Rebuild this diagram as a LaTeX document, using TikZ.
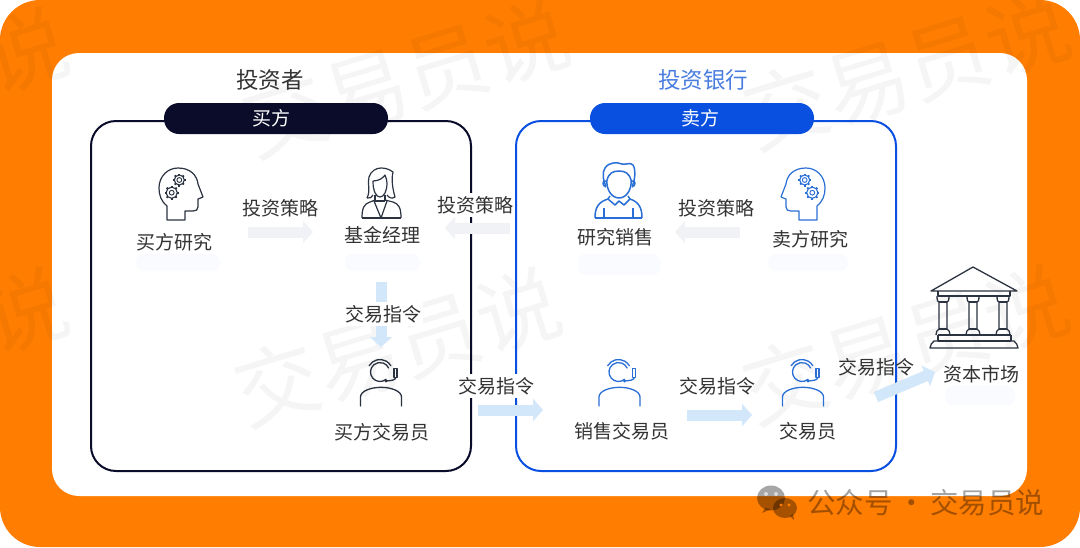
\documentclass[tikz,border=0pt]{standalone}
\usepackage{fontspec}
\setmainfont{Noto Sans CJK SC}
\usetikzlibrary{arrows.meta}
\definecolor{orangebg}{HTML}{FF7D00}
\definecolor{inkdark}{HTML}{0B0B2A}
\definecolor{inkblue}{HTML}{0A50E0}
\definecolor{iconblue}{HTML}{2A6FD6}
\definecolor{icondark}{HTML}{2B3240}
\definecolor{txt}{HTML}{333333}
\definecolor{titleblue}{HTML}{4A7DE0}
\definecolor{arrowgray}{HTML}{F0F2F5}
\definecolor{arrowblue}{HTML}{D3E7FA}
\definecolor{glow}{HTML}{F9FBFE}
\tikzset{
  x=1pt,y=-1pt,
  lbl/.style={inner sep=0pt,text=txt,font=\fontsize{19}{20}\selectfont,text height=17pt,text depth=3pt},
  lblbg/.style={lbl,fill=white,inner sep=2pt},
  titlelbl/.style={inner sep=0pt,font=\fontsize{22.5}{24}\selectfont,text height=21pt,text depth=4pt},
  pilllbl/.style={inner sep=0pt,text=white,font=\fontsize{19}{20}\selectfont,text height=17pt,text depth=3pt},
  frame/.style={line width=2pt,rounded corners=25pt},
  blockgray/.style={line width=11pt,arrowgray,-{Triangle[length=10pt,width=22pt]}},
  blockblue/.style={line width=11pt,arrowblue,-{Triangle[length=10pt,width=22pt]}},
  wm/.style={inner sep=0pt,text=black,text opacity=.04,rotate=17,font=\fontsize{84}{88}\selectfont},
  pics/gearicon/.style={code={
    \draw[line width=1.1pt] (0,0) circle[radius=#1];
    \draw[line width=.9pt] (0,0) circle[radius=2.4];
    \foreach \a in {0,45,...,315}{\draw[line width=1.8pt] (\a:#1) -- (\a:#1+1.5);}
  }},
  pics/headicon/.style={code={
    \draw[line width=1.2pt,line join=round] (-14,26) -- (-14,12) .. controls (-20,7) and (-22,1) .. (-22,-6)
      .. controls (-22,-18) and (-13,-26) .. (-3,-26) .. controls (9,-26) and (16,-19) .. (17,-10)
      -- (22,3) -- (17,5) -- (17,13) .. controls (17,16) and (15,17) .. (12,17) -- (4,17) -- (4,26) -- cycle;
    \pic at (-1.7,-14) {gearicon=5};
    \pic at (-9.3,-1.3) {gearicon=5.6};
  }},
  pics/womanicon/.style={code={
    \begin{scope}[line width=1.2pt,line join=round]
    \draw (367,198) .. controls (371,190) and (367,184) .. (369,177) .. controls (371,171) and (376,168) .. (381,168)
      .. controls (385,168) and (389,169) .. (393,172) .. controls (391,180) and (393,190) .. (395,197) .. controls (392,199) and (389,198) .. (387,195);
    \draw (373,195) .. controls (372,198) and (370,198) .. (367,198);
    \draw (373,181) .. controls (379,181) and (383,178) .. (385,175) .. controls (386,178) and (387,180) .. (387,183)
      .. controls (387,191) and (384,197) .. (380,197) .. controls (376,197) and (373,191) .. (373,181);
    \draw (375,195) -- (375,201) (385,195) -- (385,201);
    \draw (375,201) -- (385,201);
    \draw (362,218) .. controls (362,208) and (364,204) .. (370,202) -- (375,200);
    \draw (401,218) .. controls (401,208) and (399,204) .. (393,202) -- (385,200);
    \draw (362,218) -- (401,218);
    \draw (374,201) -- (381,218) -- (387,201);
    \end{scope}
  }},
  pics/manicon/.style={code={
    \begin{scope}[line width=1.5pt,line join=round]
    \draw (606,186) .. controls (603,182) and (602,172) .. (605,168) .. controls (609,162) and (617,162) .. (622,164)
      .. controls (626,165) and (630,162) .. (633,165) .. controls (636,169) and (635,182) .. (632,186);
    \draw (607,180) .. controls (609,173) and (613,171) .. (619,171) .. controls (625,171) and (629,173) .. (631,180)
      .. controls (632,190) and (626,198) .. (619,198) .. controls (612,198) and (606,190) .. (607,180);
    \draw (606,181) .. controls (602,180) and (602,186) .. (606,187);
    \draw (632,181) .. controls (636,180) and (636,186) .. (632,187);
    \draw (610,196) -- (608,199) -- (615,205) -- (619,201) -- (624,205) -- (630,199) -- (628,196);
    \draw (595,218) .. controls (595,208) and (598,202) .. (608,199);
    \draw (642,218) .. controls (642,208) and (639,202) .. (630,199);
    \draw (595,218) -- (642,218);
    \draw (604,208) -- (604,218) (633,208) -- (633,218);
    \end{scope}
  }},
  pics/agenticon/.style={code={
    \begin{scope}[line width=1.3pt,line join=round,line cap=round]
    \draw (-1,-11) ++(50:9.5) arc[start angle=50,end angle=335,radius=9.5];
    \draw (-1,-11) ++(210:12.5) arc[start angle=210,end angle=330,radius=12.5];
    \draw[fill=white] (13,-14.5) rectangle (16,-5.5);
    \draw (15,-5.5) .. controls (14,-2.5) and (10,-2.5) .. (5,-2);
    \fill (5,-2) circle[radius=1.6];
    \draw (-20.5,23) -- (-20.5,14) .. controls (-20.5,8) and (-10,4.3) .. (0,4.3)
       .. controls (10,4.3) and (20.5,8) .. (20.5,14) -- (20.5,23);
    \end{scope}
  }},
  pics/bankicon/.style={code={
    \begin{scope}[line width=1.3pt,line join=round]
    \draw (931,291) -- (973,267) -- (1017,291) -- cycle;
    \draw (938,291) -- (938,296) -- (1010,296) -- (1010,291);
    \foreach \c in {943,973,1003}{
      \draw (\c-6,296) .. controls (\c-6,301) and (\c-5,302) .. (\c-4,302) -- (\c-4,329)
        .. controls (\c-6,330) and (\c-7,332) .. (\c-7,335);
      \draw (\c+6,296) .. controls (\c+6,301) and (\c+5,302) .. (\c+4,302) -- (\c+4,329)
        .. controls (\c+6,330) and (\c+7,332) .. (\c+7,335);
      \draw (\c-4,302) -- (\c+4,302) (\c-4,329) -- (\c+4,329);
    }
    \draw (938,335) -- (1011,335) (938,341) -- (1011,341);
    \draw (938,335) -- (938,341) (1011,335) -- (1011,341);
    \draw (934,341) -- (1014,341) .. controls (1016,343) and (1018,345) .. (1018,348) -- (930,348) .. controls (930,345) and (932,343) .. (934,341) -- cycle;
    \end{scope}
  }},
}
\begin{document}
\begin{tikzpicture}
\useasboundingbox (0,0) rectangle (1080,547);
\fill[white] (0,0) rectangle (1080,547);
\fill[orangebg,rounded corners=40pt] (0,0) rectangle (1080,547);
\fill[white,rounded corners=27pt] (52,53) rectangle (1027,496);
% pale glows under the labels
\foreach \xa/\ya/\xb/\yb in {136/254/220/271,345/254/420/271,578/254/660/275,768/254/848/271,945/386/1015/405}{
  \fill[glow,rounded corners=8pt] (\xa,\ya) rectangle (\xb,\yb);
}
% watermarks
\begin{scope}
\clip (0,0) rectangle (1080,547);
\foreach \wx/\wy [count=\i] in {-95/87,406/78,907/70,-95/347,398/347,906/345}{
  \node[wm] (wm\i) at (\wx,\wy) {交易员说};
}
\end{scope}
% frames
\draw[frame,inkdark] (91,121) rectangle (471,471);
\draw[frame,inkblue] (516,121) rectangle (896,471);
\fill[inkdark,rounded corners=15pt] (164,103) rectangle (388,134);
\fill[inkblue,rounded corners=15pt] (590,103) rectangle (814,134);
\node[pilllbl] (buytag) at (271,118) {买方};
\node[pilllbl] (selltag) at (700,118) {卖方};
\node[titlelbl,text=txt] (investor) at (270,80) {投资者};
\node[titlelbl,text=titleblue] (bank) at (703,80) {投资银行};
% icons
\pic[color=icondark] at (181,194) {headicon};
\pic[color=iconblue,xscale=-1] at (803,194) {headicon};
\pic[color=icondark] at (0,0) {womanicon};
\pic[color=iconblue] at (0,0) {manicon};
\pic[color=icondark] at (381,383) {agenticon};
\pic[color=iconblue] at (619.5,383) {agenticon};
\pic[color=iconblue] at (803,383) {agenticon};
\pic[color=icondark] at (0,0) {bankicon};
% connector end points
\coordinate (a1s) at (248,232); \coordinate (a1e) at (313,232);
\coordinate (a2s) at (510,228); \coordinate (a2e) at (445,228);
\coordinate (a3s) at (740,232); \coordinate (a3e) at (675,232);
\coordinate (a4s) at (381,282); \coordinate (a4e) at (381,347);
\coordinate (a5s) at (478,410); \coordinate (a5e) at (543,410);
\coordinate (a6s) at (687,415); \coordinate (a6e) at (752,415);
\coordinate (a7s) at (876,397); \coordinate (a7e) at (935,372);
\draw[blockgray] (a1s) -- (a1e);
\draw[blockgray] (a2s) -- (a2e);
\draw[blockgray] (a3s) -- (a3e);
\draw[blockblue] (a4s) -- (a4e);
\draw[blockblue] (a5s) -- (a5e);
\draw[blockblue] (a6s) -- (a6e);
\draw[blockblue] (a7s) -- (a7e);
% labels
\node[lbl] (buyres) at (174,242) {买方研究};
\node[lbl] (fm) at (382,235) {基金经理};
\node[lbl] (ressales) at (615,237) {研究销售};
\node[lbl] (sellres) at (810,239) {卖方研究};
\node[lbl] (buytrader) at (382,432) {买方交易员};
\node[lbl] (salestrader) at (622,431) {销售交易员};
\node[lbl] (trader) at (808,431) {交易员};
\node[lbl] (market) at (981,374) {资本市场};
\node[lbl] (s1) at (280,208) {投资策略};
\node[lblbg] (s2) at (475,205) {投资策略};
\node[lbl] (s3) at (716,208) {投资策略};
\node[lblbg] (o1) at (383,314) {交易指令};
\node[lblbg] (o2) at (496,386) {交易指令};
\node[lbl] (o3) at (717,386) {交易指令};
\node[lbl] (o4) at (876,367) {交易指令};
% corner credit
\begin{scope}[black,opacity=.35]
\fill (771,498) ellipse[x radius=14,y radius=12.5];
\fill (765,508) -- (762,513) -- (771,509) -- cycle;
\end{scope}
\fill[white,opacity=.6] (766,494) circle[radius=2] (776,494) circle[radius=2];
\begin{scope}[black,opacity=.35]
\fill (785,508) ellipse[x radius=12,y radius=10];
\fill (790,516) -- (794,520) -- (793,514) -- cycle;
\end{scope}
\fill[orangebg] (781,505) circle[radius=1.6] (789,505) circle[radius=1.6];
\node[inner sep=0pt,text=black,text opacity=.36,font=\fontsize{28.5}{30}\selectfont,anchor=west] (credit) at (807,503) {公众号\hspace{4.5pt}·\hspace{4.5pt}交易员说};
\end{tikzpicture}
\end{document}
